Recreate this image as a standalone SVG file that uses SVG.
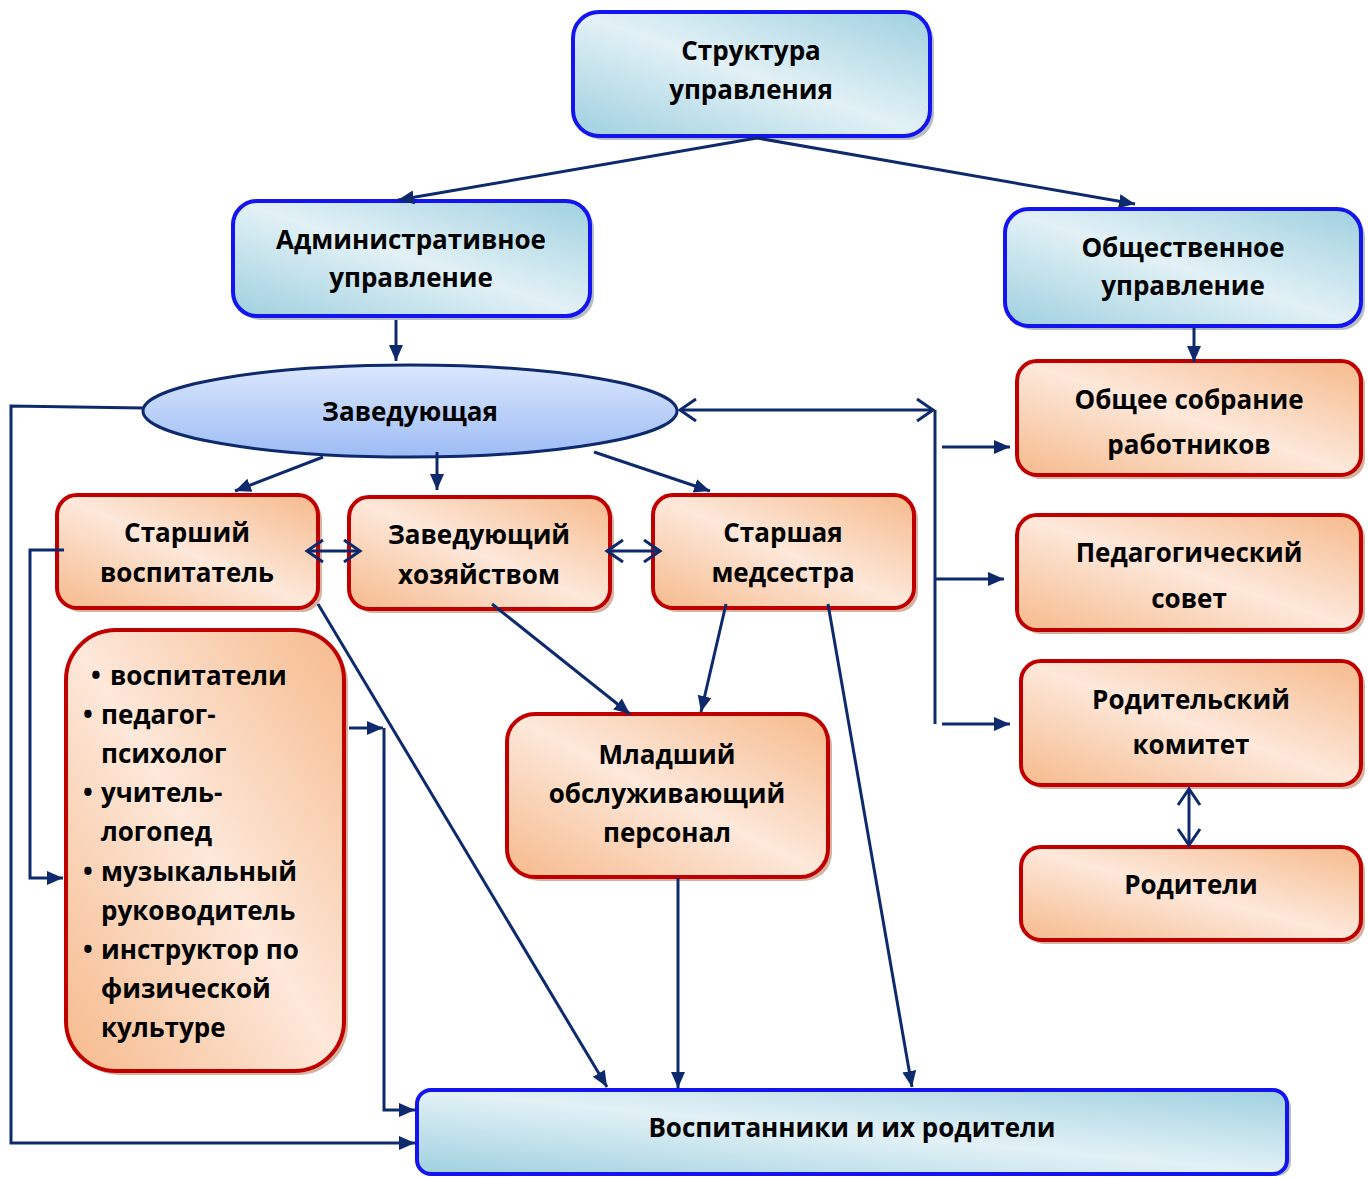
<svg xmlns="http://www.w3.org/2000/svg" width="1368" height="1178" viewBox="0 0 1368 1178">
<style>
text{font-family:"Open Sans","Noto Sans","DejaVu Sans",sans-serif;font-weight:bold;font-size:26px;fill:#000;text-anchor:middle}
.lst{text-anchor:start}
.blue{fill:url(#gb);stroke:#1414f0;stroke-width:4}
.red{fill:url(#gr);stroke:#c00000;stroke-width:4}
.shb{fill:#9aa4aa;opacity:0.7}
.shr{fill:#c9a08c;opacity:0.8}
.c{fill:none;stroke:#0e2a6c;stroke-width:3}
</style>
<defs>
<linearGradient id="gb" x1="0" y1="1" x2="1" y2="0">
<stop offset="0" stop-color="#9fd0e0"/><stop offset="0.5" stop-color="#e2f1f6"/><stop offset="1" stop-color="#9fd0e0"/>
</linearGradient>
<linearGradient id="gr" x1="0" y1="1" x2="1" y2="0">
<stop offset="0" stop-color="#f6ba8c"/><stop offset="0.5" stop-color="#fde8da"/><stop offset="1" stop-color="#f6ba8c"/>
</linearGradient>
<linearGradient id="ge" x1="0" y1="0" x2="0" y2="1">
<stop offset="0" stop-color="#dbe7fd"/><stop offset="1" stop-color="#9dbcf5"/>
</linearGradient>
<marker id="a" markerUnits="userSpaceOnUse" markerWidth="18" markerHeight="16" refX="16" refY="8" orient="auto">
<path d="M0,1 L16,8 L0,15 Z" fill="#0e2a6c"/>
</marker>
<marker id="o" markerUnits="userSpaceOnUse" markerWidth="22" markerHeight="26" refX="19" refY="13" orient="auto-start-reverse">
<path d="M3,2 L19,13 L3,24" fill="none" stroke="#0e2a6c" stroke-width="3"/>
</marker>
</defs>

<g id="structure">
<rect class="shb" x="577" y="16" width="357" height="124" rx="26"/>
<rect class="blue" x="573" y="12" width="357" height="124" rx="26"/>
<text x="751" y="60">Структура</text>
<text x="751" y="99">управления</text>
</g>

<g id="admin">
<rect class="shb" x="237" y="205" width="357" height="115" rx="24"/>
<rect class="blue" x="233" y="201" width="357" height="115" rx="24"/>
<text x="411" y="249">Административное</text>
<text x="411" y="287">управление</text>
</g>

<g id="public">
<rect class="shb" x="1009" y="213" width="356" height="117" rx="24"/>
<rect class="blue" x="1005" y="209" width="356" height="117" rx="24"/>
<text x="1183" y="257">Общественное</text>
<text x="1183" y="295">управление</text>
</g>

<g id="head">
<ellipse cx="410" cy="411" rx="267" ry="46" fill="url(#ge)" stroke="#0e2a6c" stroke-width="3"/>
<text x="410" y="421">Заведующая</text>
</g>

<g id="senior-teacher">
<rect class="shr" x="61" y="499" width="261" height="113" rx="20"/>
<rect class="red" x="57" y="495" width="261" height="113" rx="20"/>
<text x="187" y="542">Старший</text>
<text x="187" y="582">воспитатель</text>
</g>

<g id="supply">
<rect class="shr" x="353" y="501" width="261" height="112" rx="20"/>
<rect class="red" x="349" y="497" width="261" height="112" rx="20"/>
<text x="479" y="544">Заведующий</text>
<text x="479" y="584">хозяйством</text>
</g>

<g id="nurse">
<rect class="shr" x="657" y="499" width="261" height="113" rx="20"/>
<rect class="red" x="653" y="495" width="261" height="113" rx="20"/>
<text x="783" y="542">Старшая</text>
<text x="783" y="582">медсестра</text>
</g>

<g id="general-meeting">
<rect class="shr" x="1021" y="365" width="344" height="114" rx="20"/>
<rect class="red" x="1017" y="361" width="344" height="114" rx="20"/>
<text x="1189" y="409">Общее собрание</text>
<text x="1189" y="454">работников</text>
</g>

<g id="ped-council">
<rect class="shr" x="1021" y="519" width="344" height="115" rx="20"/>
<rect class="red" x="1017" y="515" width="344" height="115" rx="20"/>
<text x="1189" y="562">Педагогический</text>
<text x="1189" y="608">совет</text>
</g>

<g id="parent-committee">
<rect class="shr" x="1025" y="665" width="340" height="124" rx="20"/>
<rect class="red" x="1021" y="661" width="340" height="124" rx="20"/>
<text x="1191" y="709">Родительский</text>
<text x="1191" y="754">комитет</text>
</g>

<g id="parents">
<rect class="shr" x="1025" y="851" width="340" height="93" rx="20"/>
<rect class="red" x="1021" y="847" width="340" height="93" rx="20"/>
<text x="1191" y="894">Родители</text>
</g>

<g id="staff-list">
<rect class="shr" x="70" y="634" width="278" height="441" rx="50"/>
<rect class="red" x="66" y="630" width="278" height="441" rx="50"/>
<text class="lst" x="91" y="685">•</text><text class="lst" x="110" y="685">воспитатели</text>
<text class="lst" x="83" y="724">•</text><text class="lst" x="101" y="724">педагог-</text>
<text class="lst" x="101" y="763">психолог</text>
<text class="lst" x="83" y="802">•</text><text class="lst" x="101" y="802">учитель-</text>
<text class="lst" x="101" y="841">логопед</text>
<text class="lst" x="83" y="881">•</text><text class="lst" x="101" y="881">музыкальный</text>
<text class="lst" x="101" y="920">руководитель</text>
<text class="lst" x="83" y="959">•</text><text class="lst" x="101" y="959">инструктор по</text>
<text class="lst" x="101" y="998">физической</text>
<text class="lst" x="101" y="1037">культуре</text>
</g>

<g id="junior-staff">
<rect class="shr" x="511" y="718" width="321" height="163" rx="28"/>
<rect class="red" x="507" y="714" width="321" height="163" rx="28"/>
<text x="667" y="764">Младший</text>
<text x="667" y="803">обслуживающий</text>
<text x="667" y="842">персонал</text>
</g>

<g id="pupils">
<rect class="shb" x="421" y="1094" width="870" height="82" rx="14"/>
<rect class="blue" x="417" y="1090" width="870" height="84" rx="14"/>
<text x="852" y="1137">Воспитанники и их родители</text>
</g>

<g id="connectors">
<line class="c" x1="757" y1="138" x2="398" y2="200" marker-end="url(#a)"/>
<line class="c" x1="757" y1="138" x2="1135" y2="204" marker-end="url(#a)"/>
<line class="c" x1="396" y1="320" x2="396" y2="361" marker-end="url(#a)"/>
<line class="c" x1="1194" y1="327" x2="1194" y2="362" marker-end="url(#a)"/>
<polyline class="c" points="143,408 11,406 11,1143 415,1143" marker-end="url(#a)"/>
<line class="c" x1="680" y1="410" x2="933" y2="410" marker-start="url(#o)" marker-end="url(#o)"/>
<line class="c" x1="935" y1="410" x2="935" y2="724"/>
<line class="c" x1="942" y1="447" x2="1010" y2="447" marker-end="url(#a)"/>
<line class="c" x1="935" y1="579" x2="1004" y2="579" marker-end="url(#a)"/>
<line class="c" x1="942" y1="724" x2="1010" y2="724" marker-end="url(#a)"/>
<line class="c" x1="323" y1="457" x2="235" y2="491" marker-end="url(#a)"/>
<line class="c" x1="437" y1="452" x2="437" y2="490" marker-end="url(#a)"/>
<line class="c" x1="594" y1="452" x2="710" y2="491" marker-end="url(#a)"/>
<line class="c" x1="307" y1="551" x2="360" y2="551" marker-start="url(#o)" marker-end="url(#o)"/>
<line class="c" x1="607" y1="551" x2="660" y2="551" marker-start="url(#o)" marker-end="url(#o)"/>
<line class="c" x1="1189" y1="789" x2="1189" y2="845" marker-start="url(#o)" marker-end="url(#o)"/>
<polyline class="c" points="64,550 30,550 30,878 63,878" marker-end="url(#a)"/>
<polyline class="c" points="349,728 383,728" marker-end="url(#a)"/>
<polyline class="c" points="384,728 384,1110 415,1110" marker-end="url(#a)"/>
<line class="c" x1="318" y1="604" x2="607" y2="1087" marker-end="url(#a)"/>
<line class="c" x1="492" y1="604" x2="630" y2="714" marker-end="url(#a)"/>
<line class="c" x1="726" y1="604" x2="701" y2="712" marker-end="url(#a)"/>
<line class="c" x1="828" y1="604" x2="912" y2="1087" marker-end="url(#a)"/>
<line class="c" x1="678" y1="878" x2="678" y2="1088" marker-end="url(#a)"/>
</g>
</svg>
